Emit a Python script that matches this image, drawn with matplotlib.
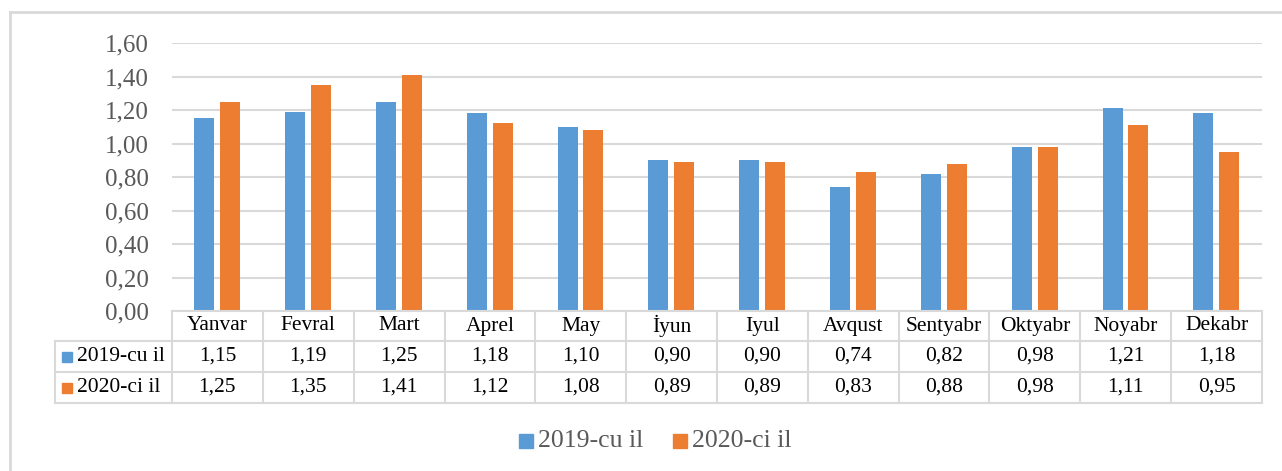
import matplotlib
matplotlib.use("Agg")
import matplotlib.pyplot as plt
import numpy as np
from matplotlib.transforms import blended_transform_factory
from matplotlib.patches import Rectangle
from matplotlib.lines import Line2D

months = ["Yanvar", "Fevral", "Mart", "Aprel", "May", "İyun", "Iyul",
          "Avqust", "Sentyabr", "Oktyabr", "Noyabr", "Dekabr"]
series_names = ["2019-cu il", "2020-ci il"]
values_2019 = [1.15, 1.19, 1.25, 1.18, 1.10, 0.90, 0.90, 0.74, 0.82, 0.98, 1.21, 1.18]
values_2020 = [1.25, 1.35, 1.41, 1.12, 1.08, 0.89, 0.89, 0.83, 0.88, 0.98, 1.11, 0.95]
yticks = [0.0, 0.2, 0.4, 0.6, 0.8, 1.0, 1.2, 1.4, 1.6]

colors = ["#5B9BD5", "#ED7D31"]
grid_c = "#D9D9D9"
serif = ["Liberation Serif", "DejaVu Serif"]

W, H = 1282, 471
fig = plt.figure(figsize=(W / 100, H / 100), dpi=100)

def fx(px):
    return px / W

def fy(py):
    return 1 - py / H

# outer frame (left and top edges visible)
fig.add_artist(Line2D([fx(9.5), fx(9.5)], [fy(12), fy(471)], color=grid_c, lw=2))
fig.add_artist(Line2D([fx(9.5), fx(1282)], [fy(12), fy(12)], color=grid_c, lw=2))

ax_left, ax_right = 172, 1262
ax_top, ax_bot = 43, 311
ax = fig.add_axes([fx(ax_left), fy(ax_bot), fx(ax_right - ax_left), (ax_bot - ax_top) / H])

x = np.arange(len(months))
bw = 0.22
ax.bar(x - 0.145, values_2019, width=bw, color=colors[0], zorder=3)
ax.bar(x + 0.14, values_2020, width=bw, color=colors[1], zorder=3)

ax.set_xlim(-0.5, len(months) - 0.5)
ax.set_ylim(0, 1.6)
ax.set_yticks(yticks)
ax.set_yticklabels([f"{v:.2f}".replace(".", ",") for v in yticks],
                   family=serif, fontsize=18, color="#595959")
ax.tick_params(axis="y", length=0, pad=17)
ax.set_xticks([])
for s in ax.spines.values():
    s.set_visible(False)
for v in yticks:
    ax.axhline(v, color=grid_c, lw=1.5, zorder=1)

# data table
tr = blended_transform_factory(ax.transData, fig.transFigure)
row_y = [311, 341, 372, 403]
left_px = 55
px_per_unit = (ax_right - ax_left) / len(months)
x_left = -0.5 - (ax_left - left_px) / px_per_unit
x_end = len(months) - 0.5

def hline(x0, x1, py):
    fig.add_artist(Line2D([x0, x1], [fy(py), fy(py)], transform=tr, color=grid_c, lw=1.5))

def vline(xd, py0, py1):
    fig.add_artist(Line2D([xd, xd], [fy(py0), fy(py1)], transform=tr, color=grid_c, lw=1.5))

hline(-0.5, x_end, row_y[0])
hline(x_left, x_end, row_y[1])
hline(x_left, x_end, row_y[2])
hline(x_left, x_end, row_y[3])
for i in range(len(months) + 1):
    vline(i - 0.5, row_y[0], row_y[3])
vline(x_left, row_y[1], row_y[3])

tfs = 15.5
for i, m in enumerate(months):
    fig.text(i, fy((row_y[0] + row_y[1]) / 2), m, transform=tr, ha="center", va="center",
             family=serif, fontsize=tfs, color="black")
    fig.text(i, fy((row_y[1] + row_y[2]) / 2), f"{values_2019[i]:.2f}".replace(".", ","),
             transform=tr, ha="center", va="center", family=serif, fontsize=tfs, color="black")
    fig.text(i, fy((row_y[2] + row_y[3]) / 2), f"{values_2020[i]:.2f}".replace(".", ","),
             transform=tr, ha="center", va="center", family=serif, fontsize=tfs, color="black")

for k, name in enumerate(series_names):
    yc = (row_y[k + 1] + row_y[k + 2]) / 2
    fig.add_artist(Rectangle((fx(62), fy(yc + 5)), fx(10), 10 / H, color=colors[k],
                             transform=fig.transFigure))
    fig.text(fx(77), fy(yc), name, ha="left", va="center", family=serif,
             fontsize=tfs, color="black")

# legend
leg_y = 441
items = [(519, series_names[0]), (673, series_names[1])]
for k, (lx, name) in enumerate(items):
    fig.add_artist(Rectangle((fx(lx), fy(leg_y + 7)), fx(14), 14 / H, color=colors[k],
                             transform=fig.transFigure))
    fig.text(fx(lx + 19), fy(leg_y), name, ha="left", va="center", family=serif,
             fontsize=18.5, color="#595959")

fig.savefig("out.png", dpi=100)
